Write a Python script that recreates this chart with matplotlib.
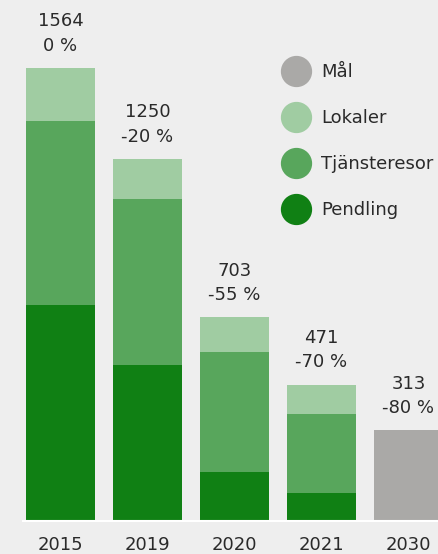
import matplotlib
matplotlib.use("Agg")
import matplotlib.pyplot as plt
from matplotlib.lines import Line2D

years = ["2015", "2019", "2020", "2021", "2030"]
pendling = [746, 539, 169, 97, 0]
tjansteresor = [635, 573, 414, 273, 0]
lokaler = [183, 138, 120, 101, 0]
mal = [0, 0, 0, 0, 313]
totals = [1564, 1250, 703, 471, 313]
changes = ["0 %", "-20 %", "-55 %", "-70 %", "-80 %"]

c_pend = "#108014"
c_tj = "#58a65c"
c_lok = "#a0cca2"
c_mal = "#aaa9a7"
bg = "#eeeeee"
txt = "#2a2a2a"

plt.rcParams['font.family'] = ['DejaVu Sans']

W, H = 439, 554
fig = plt.figure(figsize=(W / 100, H / 100), dpi=100, facecolor=bg)
ax = fig.add_axes([23 / W, 33 / H, 1 - 23 / W, 521 / H])
ax.set_facecolor(bg)

x = list(range(len(years)))
bw = 69 / 87
ax.bar(x, pendling, width=bw, color=c_pend)
b2 = [p for p in pendling]
ax.bar(x, tjansteresor, width=bw, bottom=b2, color=c_tj)
b3 = [p + t for p, t in zip(pendling, tjansteresor)]
ax.bar(x, lokaler, width=bw, bottom=b3, color=c_lok)
ax.bar(x, mal, width=bw, color=c_mal)

for xi, tot, ch in zip(x, totals, changes):
    ax.annotate(f"{tot}\n{ch}", (xi, tot), xytext=(0, 9.5), textcoords="offset points",
                ha="center", va="bottom", fontsize=13, color=txt, linespacing=1.45)

ax.set_xlim((23 - 60.5) / 87, (439 - 60.5) / 87)
ax.set_ylim(0, 521 / 0.2897)
ax.set_xticks(x)
ax.set_xticklabels(years, fontsize=13, color=txt)
ax.tick_params(axis='x', length=0, pad=10.5)
ax.set_yticks([])
for s in ['top', 'right', 'left']:
    ax.spines[s].set_visible(False)
ax.spines['bottom'].set_color("white")
ax.spines['bottom'].set_linewidth(1.5)

handles = [Line2D([], [], marker='o', linestyle='none', markersize=21.5, color=c)
           for c in [c_mal, c_lok, c_tj, c_pend]]
labels = ["Mål", "Lokaler", "Tjänsteresor", "Pendling"]
leg = ax.legend(handles, labels, loc="upper left", bbox_to_anchor=(281.5 / W, 1 - 63 / H),
                bbox_transform=fig.transFigure, frameon=False, fontsize=13,
                labelspacing=1.55, handletextpad=0.59, handlelength=1.6, borderpad=0,
                borderaxespad=0, labelcolor=txt)

fig.savefig("out.png", dpi=100, facecolor=bg)
